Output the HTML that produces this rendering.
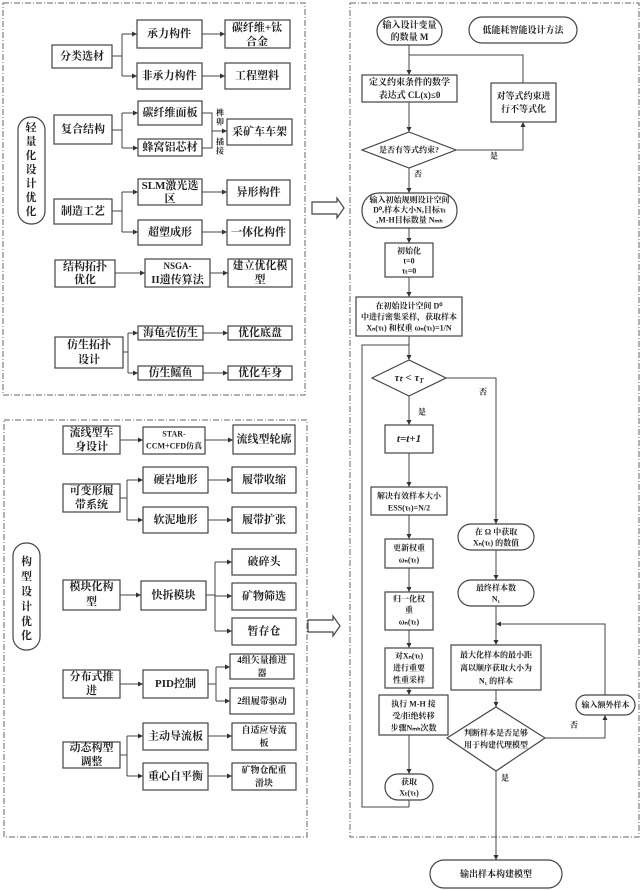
<!DOCTYPE html>
<html><head><meta charset="utf-8"><style>
html,body{margin:0;padding:0;background:#fff;}
svg{display:block;}
text{font-family:"Liberation Serif","Noto Serif CJK SC",serif;font-weight:bold;font-size:11px;text-anchor:middle;dominant-baseline:central;fill:#222;}
.s{font-size:8px;}
.m{font-size:9px;}
rect,ellipse,polygon.b{fill:#fff;stroke:#444;stroke-width:1.2;}
line,polyline{stroke:#444;stroke-width:1;fill:none;}
.d{fill:none;stroke:#666;stroke-width:1;stroke-dasharray:6 2 1 2;}
</style></head><body>
<svg width="640" height="890" viewBox="0 0 640 890" xmlns="http://www.w3.org/2000/svg">
<defs><marker id="a" markerWidth="6" markerHeight="6" refX="5" refY="3" orient="auto" markerUnits="userSpaceOnUse"><path d="M0,0.5 L5,3 L0,5.5 Z" fill="#333"/></marker></defs>

<rect class="d" x="3" y="3" width="302" height="392"/>
<rect class="d" x="4" y="420" width="303" height="417"/>
<rect class="d" x="350" y="3" width="289" height="834"/>

<polygon class="b" points="312,202 337,202 337,198 344,208 337,218 337,214 312,214"/>
<polygon class="b" points="308,620 333,620 333,616 340,626 333,636 333,632 308,632"/>

<!-- ===== top-left ===== -->
<rect x="18" y="117" width="27" height="107" rx="13"/>
<text x="31" y="128">轻</text><text x="31" y="142">量</text><text x="31" y="156">化</text><text x="31" y="170">设</text><text x="31" y="184">计</text><text x="31" y="198">优</text><text x="31" y="212">化</text>

<rect x="52" y="45" width="60" height="23"/><text x="82" y="56.5">分类选材</text>
<rect x="137" y="20" width="65" height="28"/><text x="169" y="34">承力构件</text>
<rect x="225" y="20" width="65" height="28"/><text x="257" y="28">碳纤维+钛</text><text x="257" y="42">合金</text>
<rect x="137" y="63" width="65" height="26"/><text x="169" y="76">非承力构件</text>
<rect x="225" y="63" width="65" height="26"/><text x="257" y="76">工程塑料</text>
<polyline points="112,56 122,56"/><polyline points="122,34 122,76"/>
<line x1="122" y1="34" x2="137" y2="34" marker-end="url(#a)"/>
<line x1="122" y1="76" x2="137" y2="76" marker-end="url(#a)"/>
<line x1="202" y1="34" x2="225" y2="34" marker-end="url(#a)"/>
<line x1="202" y1="76" x2="225" y2="76" marker-end="url(#a)"/>

<rect x="54" y="115" width="58" height="29"/><text x="83" y="129.5">复合结构</text>
<rect x="138" y="101" width="64" height="24"/><text x="170" y="113">碳纤维面板</text>
<rect x="138" y="139" width="64" height="17"/><text x="170" y="147.5">蜂窝铝芯材</text>
<rect x="227" y="119" width="65" height="26"/><text x="259.5" y="132">采矿车车架</text>
<polyline points="112,130 122,130"/><polyline points="122,113 122,148"/>
<line x1="122" y1="113" x2="138" y2="113" marker-end="url(#a)"/>
<line x1="122" y1="148" x2="138" y2="148" marker-end="url(#a)"/>
<polyline points="202,113 212,113 212,148 202,148"/>
<line x1="212" y1="131" x2="227" y2="131" marker-end="url(#a)"/>
<text class="s" x="220" y="113">榫</text><text class="s" x="220" y="122">卯</text>
<text class="s" x="220" y="142">插</text><text class="s" x="220" y="151">接</text>

<rect x="54" y="199" width="58" height="25"/><text x="83" y="211.5">制造工艺</text>
<rect x="138" y="179" width="64" height="26"/><text x="170" y="186">SLM激光选</text><text x="170" y="199">区</text>
<rect x="227" y="180" width="63" height="25"/><text x="258.5" y="192.5">异形构件</text>
<rect x="138" y="220" width="64" height="25"/><text x="170" y="232.5">超塑成形</text>
<rect x="227" y="220" width="63" height="25"/><text x="258.5" y="232.5">一体化构件</text>
<polyline points="112,211 122,211"/><polyline points="122,192 122,232"/>
<line x1="122" y1="192" x2="138" y2="192" marker-end="url(#a)"/>
<line x1="122" y1="232" x2="138" y2="232" marker-end="url(#a)"/>
<line x1="202" y1="192" x2="227" y2="192" marker-end="url(#a)"/>
<line x1="202" y1="232" x2="227" y2="232" marker-end="url(#a)"/>

<rect x="55" y="260" width="60" height="27"/><text x="85" y="267">结构拓扑</text><text x="85" y="280">优化</text>
<rect x="145" y="259" width="65" height="28"/><text class="m" x="177.5" y="266">NSGA-</text><text x="177.5" y="280">II遗传算法</text>
<rect x="228" y="259" width="64" height="28"/><text x="260" y="266">建立优化模</text><text x="260" y="280">型</text>
<line x1="115" y1="273" x2="145" y2="273" marker-end="url(#a)"/>
<line x1="210" y1="273" x2="228" y2="273" marker-end="url(#a)"/>

<rect x="55" y="337" width="68" height="31"/><text x="89" y="345">仿生拓扑</text><text x="89" y="360">设计</text>
<rect x="138" y="326" width="65" height="14"/><text x="170.5" y="333">海龟壳仿生</text>
<rect x="228" y="326" width="64" height="14"/><text x="260" y="333">优化底盘</text>
<rect x="138" y="366" width="65" height="14"/><text x="170.5" y="373">仿生鳐鱼</text>
<rect x="228" y="366" width="64" height="14"/><text x="260" y="373">优化车身</text>
<polyline points="123,352 128,352"/><polyline points="128,333 128,373"/>
<line x1="128" y1="333" x2="138" y2="333" marker-end="url(#a)"/>
<line x1="128" y1="373" x2="138" y2="373" marker-end="url(#a)"/>
<line x1="203" y1="333" x2="228" y2="333" marker-end="url(#a)"/>
<line x1="203" y1="373" x2="228" y2="373" marker-end="url(#a)"/>

<!-- ===== bottom-left ===== -->
<rect x="13" y="543" width="27" height="107" rx="13"/>
<text x="26.5" y="562">构</text><text x="26.5" y="577">型</text><text x="26.5" y="592">设</text><text x="26.5" y="607">计</text><text x="26.5" y="622">优</text><text x="26.5" y="636">化</text>

<rect x="63" y="426" width="57" height="28"/><text x="91.5" y="433">流线型车</text><text x="91.5" y="447">身设计</text>
<rect x="143" y="427" width="62" height="27"/><text class="s" x="174" y="434">STAR-</text><text class="s" x="174" y="446">CCM+CFD仿真</text>
<rect x="233" y="425" width="62" height="29"/><text x="264" y="439.5">流线型轮廓</text>
<line x1="120" y1="440" x2="143" y2="440" marker-end="url(#a)"/>
<line x1="205" y1="440" x2="233" y2="440" marker-end="url(#a)"/>

<rect x="63" y="484" width="57" height="28"/><text x="91.5" y="491">可变形履</text><text x="91.5" y="505">带系统</text>
<rect x="143" y="467" width="65" height="26"/><text x="175.5" y="480">硬岩地形</text>
<rect x="232" y="467" width="64" height="26"/><text x="264" y="480">履带收缩</text>
<rect x="143" y="507" width="65" height="26"/><text x="175.5" y="520">软泥地形</text>
<rect x="232" y="507" width="64" height="26"/><text x="264" y="520">履带扩张</text>
<polyline points="120,498 127,498"/><polyline points="127,480 127,520"/>
<line x1="127" y1="480" x2="143" y2="480" marker-end="url(#a)"/>
<line x1="127" y1="520" x2="143" y2="520" marker-end="url(#a)"/>
<line x1="208" y1="480" x2="232" y2="480" marker-end="url(#a)"/>
<line x1="208" y1="520" x2="232" y2="520" marker-end="url(#a)"/>

<rect x="63" y="580" width="57" height="30"/><text x="91.5" y="587">模块化构</text><text x="91.5" y="602">型</text>
<rect x="141" y="581" width="65" height="29"/><text x="173.5" y="595.5">快拆模块</text>
<rect x="232" y="549" width="64" height="26"/><text x="264" y="562">破碎头</text>
<rect x="232" y="583" width="64" height="27"/><text x="264" y="596.5">矿物筛选</text>
<rect x="232" y="618" width="64" height="27"/><text x="264" y="631.5">暂存仓</text>
<line x1="120" y1="595" x2="141" y2="595" marker-end="url(#a)"/>
<polyline points="206,595 215,595"/><polyline points="215,562 215,631"/>
<line x1="215" y1="562" x2="232" y2="562" marker-end="url(#a)"/>
<line x1="215" y1="596" x2="232" y2="596" marker-end="url(#a)"/>
<line x1="215" y1="631" x2="232" y2="631" marker-end="url(#a)"/>

<rect x="63" y="670" width="57" height="28"/><text x="91.5" y="677">分布式推</text><text x="91.5" y="691">进</text>
<rect x="143" y="670" width="65" height="28"/><text x="175.5" y="684">PID控制</text>
<rect x="230" y="654" width="64" height="25"/><text class="m" x="262" y="660">4组矢量推进</text><text class="m" x="262" y="673">器</text>
<rect x="230" y="688" width="64" height="26"/><text class="m" x="262" y="701">2组履带驱动</text>
<line x1="120" y1="684" x2="143" y2="684" marker-end="url(#a)"/>
<polyline points="208,684 216,684"/><polyline points="216,667 216,701"/>
<line x1="216" y1="667" x2="230" y2="667" marker-end="url(#a)"/>
<line x1="216" y1="701" x2="230" y2="701" marker-end="url(#a)"/>

<rect x="63" y="742" width="57" height="26"/><text x="91.5" y="748">动态构型</text><text x="91.5" y="762">调整</text>
<rect x="143" y="723" width="65" height="27"/><text x="175.5" y="736.5">主动导流板</text>
<rect x="232" y="723" width="64" height="27"/><text class="m" x="264" y="730">自适应导流</text><text class="m" x="264" y="743">板</text>
<rect x="143" y="763" width="65" height="27"/><text x="175.5" y="776.5">重心自平衡</text>
<rect x="232" y="763" width="64" height="27"/><text class="m" x="264" y="770">矿物仓配重</text><text class="m" x="264" y="783">滑块</text>
<polyline points="120,755 127,755"/><polyline points="127,736 127,776"/>
<line x1="127" y1="736" x2="143" y2="736" marker-end="url(#a)"/>
<line x1="127" y1="776" x2="143" y2="776" marker-end="url(#a)"/>
<line x1="208" y1="736" x2="232" y2="736" marker-end="url(#a)"/>
<line x1="208" y1="776" x2="232" y2="776" marker-end="url(#a)"/>

<!-- ===== right flowchart ===== -->
<rect x="377" y="17" width="65" height="28" rx="14"/><text class="m" x="409.5" y="25">输入设计变量</text><text class="m" x="409.5" y="37">的数量 M</text>
<rect x="469" y="17" width="108" height="26" rx="13"/><text class="m" x="523" y="30">低能耗智能设计方法</text>

<line x1="409" y1="45" x2="409" y2="75" marker-end="url(#a)"/>
<rect x="362" y="75" width="95" height="27"/><text class="m" x="409.5" y="82">定义约束条件的数学</text><text class="m" x="409.5" y="95">表达式 CL(x)≤0</text>
<rect x="491" y="83" width="65" height="39"/><text class="m" x="523.5" y="96">对等式约束进</text><text class="m" x="523.5" y="109">行不等式化</text>
<polyline points="523,83 523,55 409,55"/>
<line x1="409" y1="102" x2="409" y2="132" marker-end="url(#a)"/>
<polygon class="b" points="409,132 456,150 409,168 362,150"/><text class="s" x="409" y="150">是否有等式约束?</text>
<polyline points="456,150 523,150 523,122" marker-end="url(#a)"/>
<text class="s" x="494" y="156">是</text>
<text class="s" x="418" y="174">否</text>
<line x1="409" y1="168" x2="409" y2="193" marker-end="url(#a)"/>

<rect x="362" y="193" width="95" height="35" rx="17"/>
<text class="s" x="409.5" y="200">输入初始规则设计空间</text><text class="s" x="409.5" y="210">D⁰,样本大小N,目标τₜ</text><text class="s" x="409.5" y="220">,M-H目标数量 Nₘₕ</text>
<line x1="409" y1="228" x2="409" y2="243" marker-end="url(#a)"/>
<rect x="385" y="243" width="48" height="34"/><text class="s" x="409" y="251">初始化</text><text class="s" x="409" y="261">t=0</text><text class="s" x="409" y="271">τₜ=0</text>
<line x1="409" y1="277" x2="409" y2="297" marker-end="url(#a)"/>
<rect x="356" y="297" width="106" height="39"/><text class="s" x="409" y="306">在初始设计空间 D⁰</text><text class="s" x="409" y="317">中进行密集采样，获取样本</text><text class="s" x="409" y="328">Xₙ(τₜ) 和权重 ωₙ(τₜ)=1/N</text>
<line x1="409" y1="336" x2="409" y2="360" marker-end="url(#a)"/>
<polyline points="409,807 409,800"/>
<polyline points="409,807 362,807 362,345 409,345"/>
<polygon class="b" points="409,360 446,378 409,396 372,378"/><text x="409" y="378" style="font-style:italic">τₜ &lt; τ<tspan style="font-size:7px" dy="3">T</tspan></text>
<polyline points="446,378 496,378 496,524" marker-end="url(#a)"/>
<text class="s" x="483" y="392">否</text>
<text class="s" x="422" y="412">是</text>
<line x1="409" y1="396" x2="409" y2="425" marker-end="url(#a)"/>
<rect x="385" y="425" width="48" height="28"/><text x="409" y="439" style="font-style:italic">t=t+1</text>
<line x1="409" y1="453" x2="409" y2="487" marker-end="url(#a)"/>
<rect x="371" y="487" width="76" height="28"/><text class="s" x="409" y="496">解决有效样本大小</text><text class="s" x="409" y="508">ESS(τₜ)=N/2</text>
<line x1="409" y1="515" x2="409" y2="539" marker-end="url(#a)"/>
<rect x="385" y="539" width="48" height="29"/><text class="s" x="409" y="548">更新权重</text><text class="s" x="409" y="560">ωₙ(τₜ)</text>
<line x1="409" y1="568" x2="409" y2="592" marker-end="url(#a)"/>
<rect x="385" y="592" width="48" height="38"/><text class="s" x="409" y="599">归一化权</text><text class="s" x="409" y="610">重</text><text class="s" x="409" y="622">ωₙ(τₜ)</text>
<line x1="409" y1="630" x2="409" y2="648" marker-end="url(#a)"/>
<rect x="385" y="648" width="48" height="40"/><text class="s" x="409" y="656">对Xₙ(τₜ)</text><text class="s" x="409" y="668">进行重要</text><text class="s" x="409" y="680">性重采样</text>
<line x1="409" y1="688" x2="409" y2="695" marker-end="url(#a)"/>
<rect x="379" y="695" width="69" height="40"/><text class="s" x="413.5" y="704">执行 M-H 接</text><text class="s" x="413.5" y="716">受/拒绝转移</text><text class="s" x="413.5" y="728">步骤Nₘₕ次数</text>
<line x1="409" y1="735" x2="409" y2="774" marker-end="url(#a)"/>
<rect x="385" y="774" width="48" height="26" rx="13"/><text class="s" x="409" y="782">获取</text><text class="s" x="409" y="793">Xₜ(τₜ)</text>

<rect x="458" y="524" width="76" height="26" rx="13"/><text class="s" x="496" y="532">在 Ω 中获取</text><text class="s" x="496" y="543">Xₙ(τₜ) 的数值</text>
<line x1="496" y1="550" x2="496" y2="580" marker-end="url(#a)"/>
<rect x="458" y="580" width="76" height="26" rx="13"/><text class="s" x="496" y="588">最终样本数</text><text class="s" x="496" y="599">N₁</text>
<line x1="496" y1="606" x2="496" y2="645" marker-end="url(#a)"/>
<rect x="451" y="645" width="90" height="45"/><text class="s" x="496" y="655">最大化样本的最小距</text><text class="s" x="496" y="668">离以顺序获取大小为</text><text class="s" x="496" y="681">N₁ 的样本</text>
<line x1="496" y1="690" x2="496" y2="707" marker-end="url(#a)"/>
<polygon class="b" points="496,707 545,738 496,771 447,738"/><text class="s" x="496" y="733">判断样本是否足够</text><text class="s" x="496" y="745">用于构建代理模型</text>
<polyline points="545,738 605,738 605,715" marker-end="url(#a)"/>
<rect x="576" y="695" width="59" height="20" rx="10"/><text class="s" x="605.5" y="705">输入额外样本</text>
<polyline points="605,695 605,624 496,624" marker-end="url(#a)"/>
<text class="s" x="574" y="725">否</text>
<text class="s" x="505" y="778">是</text>
<line x1="496" y1="771" x2="496" y2="860" marker-end="url(#a)"/>
<rect x="430" y="860" width="132" height="28" rx="14"/><text class="m" x="496" y="874">输出样本构建模型</text>
</svg>
</body></html>
